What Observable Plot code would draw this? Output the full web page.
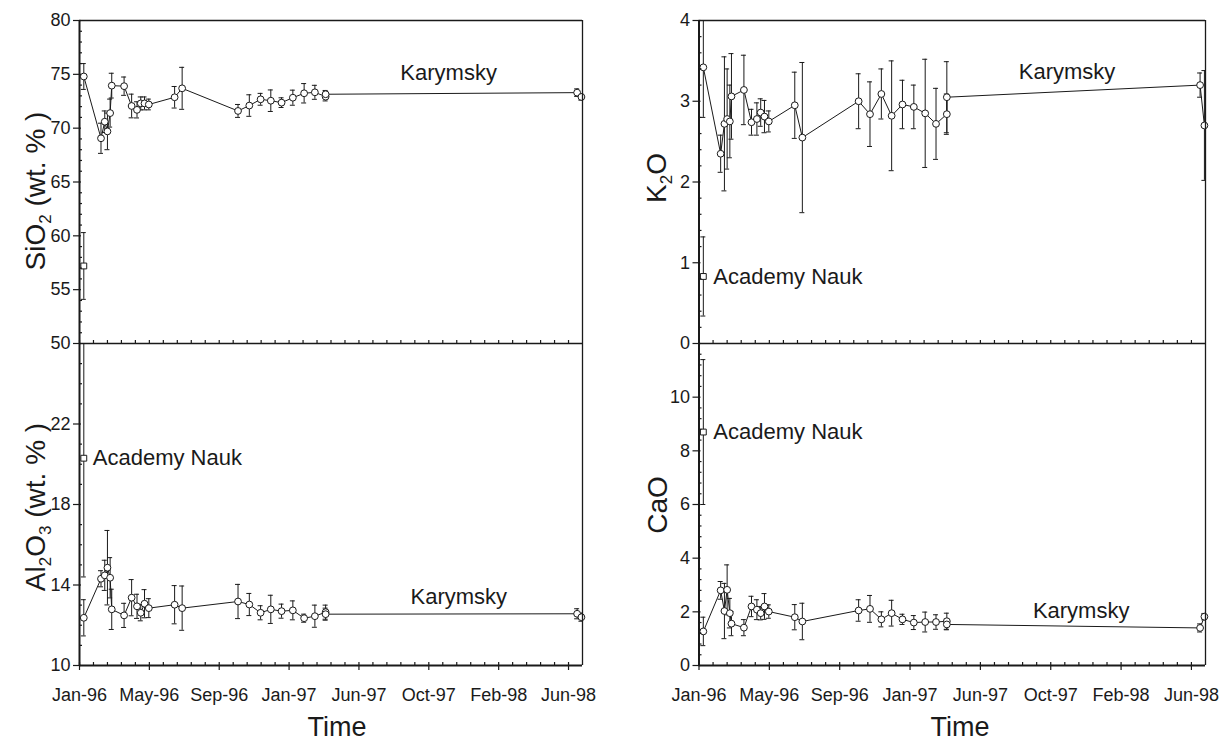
<!DOCTYPE html>
<html><head><meta charset="utf-8">
<script src="https://cdn.jsdelivr.net/npm/d3@7"></script>
<script src="https://cdn.jsdelivr.net/npm/@observablehq/plot@0.6"></script>
<style>
html,body{margin:0;padding:0;background:#fff;}
#root{position:relative;width:1230px;height:744px;overflow:hidden;}
.pn{position:absolute;}
</style></head><body><div id="root"></div>
<script>
// Days since 1 Jan 1996
const days = [8, 40, 47, 52, 57, 60, 83, 97, 107, 114, 121, 129, 177, 191, 295, 316, 337, 356, 376, 397, 418, 438, 458, 458, 926, 934];
const sio2 = [74.8, 69.06, 70.6, 69.7, 71.4, 73.95, 73.9, 72.06, 71.7, 72.3, 72.3, 72.2, 72.87, 73.7, 71.6, 72.1, 72.68, 72.55, 72.37, 72.83, 73.24, 73.33, 72.93, 73.15, 73.3, 72.9];
const sio2Err = [1.2, 1.4, 1.0, 1.7, 1.3, 1.15, 0.85, 1.1, 0.75, 0.6, 0.6, 0.5, 1.0, 1.95, 0.6, 1.0, 0.55, 1.0, 0.45, 0.7, 0.9, 0.65, 0.4, 0.35, 0.35, 0.3];
const al2o3 = [12.37, 14.31, 14.48, 14.86, 14.36, 12.79, 12.49, 13.37, 12.94, 12.62, 13.07, 12.85, 13.02, 12.85, 13.18, 13.03, 12.62, 12.79, 12.7, 12.74, 12.35, 12.45, 12.65, 12.55, 12.57, 12.4];
const al2o3Err = [0.9, 0.4, 0.75, 1.85, 1.0, 1.0, 0.6, 0.9, 0.6, 0.4, 0.7, 0.47, 0.95, 1.1, 0.85, 0.55, 0.35, 0.7, 0.35, 0.47, 0.2, 0.55, 0.35, 0.3, 0.25, 0.2];
const k2o = [3.42, 2.35, 2.72, 2.78, 2.75, 3.06, 3.14, 2.74, 2.78, 2.86, 2.81, 2.75, 2.95, 2.55, 3.0, 2.84, 3.09, 2.82, 2.96, 2.93, 2.85, 2.72, 2.84, 3.05, 3.2, 2.7];
const k2oErr = [0.62, 0.23, 0.83, 0.62, 0.45, 0.53, 0.43, 0.16, 0.2, 0.17, 0.2, 0.13, 0.41, 0.93, 0.34, 0.4, 0.31, 0.68, 0.3, 0.27, 0.67, 0.44, 0.25, 0.44, 0.15, 0.68];
const cao = [1.27, 2.8, 2.03, 2.82, 1.95, 1.56, 1.41, 2.2, 2.08, 1.95, 2.2, 2.01, 1.8, 1.64, 2.05, 2.11, 1.72, 1.95, 1.72, 1.6, 1.62, 1.62, 1.65, 1.53, 1.4, 1.82];
const caoErr = [0.53, 0.33, 1.03, 0.93, 0.55, 0.45, 0.3, 0.38, 0.37, 0.25, 0.48, 0.25, 0.47, 0.68, 0.4, 0.5, 0.28, 0.48, 0.19, 0.26, 0.37, 0.27, 0.3, 0.2, 0.15, 0.12];

// Academy Nauk samples: SiO2, Al2O3, K2O, CaO
const academyDay = 8;
const academyValues = [57.2, 20.3, 0.83, 8.7];
const academyErrors = [3.1, 5.9, 0.49, 2.7];

const noteText = ["Karymsky", "Academy Nauk"];
const karymskyNoteDay = [597, 616, 591, 617];
const karymskyNoteValue = [75.1, 13.4, 3.36, 2.05];

const xTickDays = [0, 130, 260, 390, 520, 650, 780, 910];
const xTickLabels = ["Jan-96", "May-96", "Sep-96", "Jan-97", "Jun-97", "Oct-97", "Feb-98", "Jun-98"];
const X_MAX = 936;

const sio2Ticks = [50, 55, 60, 65, 70, 75, 80];
const al2o3Ticks = [10, 14, 18, 22];
const k2oTicks = [0, 1, 2, 3, 4];
const caoTicks = [0, 2, 4, 6, 8, 10];

const FONT = '"Liberation Sans", Arial, Helvetica, sans-serif';
const INK = "#1a1a1a";

function near(a, list) { return list.some(b => Math.abs(a - b) < 1e-6); }
function steps(a, b, s) { const n = Math.round((b - a) / s); return d3.range(n + 1).map(i => +(a + i * s).toFixed(6)); }

function makePanel(p) {
  const kary = days.map((d, i) => ({day: d, v: p.values[i], e: p.errors[i]}));
  const acad = [{day: academyDay, v: p.acadValue, e: p.acadError}];
  const bars = kary.concat(acad);
  const [y0, y1] = p.yDomain;
  const yMinor = steps(y0, y1, p.yMinorStep).filter(v => !near(v, p.yMajor) && v < y1 - 1e-6 && v > y0 + 1e-6);
  const xMinor = steps(0, X_MAX, 26).filter(v => !near(v, xTickDays) && v > 0 && v < X_MAX);
  const tick = {stroke: INK, strokeWidth: 1.2};
  const marks = [
    Plot.ruleX(bars, {x: "day", y1: d => d.v - d.e, y2: d => d.v + d.e, stroke: INK, strokeWidth: 1, clip: true}),
    Plot.ruleY(bars, {y: d => d.v + d.e, x1: "day", x2: "day", insetLeft: -2.5, insetRight: -2.5, stroke: INK, strokeWidth: 1, clip: true}),
    Plot.ruleY(bars, {y: d => d.v - d.e, x1: "day", x2: "day", insetLeft: -2.5, insetRight: -2.5, stroke: INK, strokeWidth: 1, clip: true}),
    Plot.line(kary, {x: "day", y: "v", stroke: INK, strokeWidth: 1}),
    Plot.dot(kary, {x: "day", y: "v", r: 3.4, fill: "white", stroke: INK, strokeWidth: 1}),
    Plot.dot(acad, {x: "day", y: "v", symbol: "square", r: 3.3, fill: "white", stroke: INK, strokeWidth: 1}),
    Plot.text([p.note], {x: "day", y: "v", text: () => noteText[0], textAnchor: "start", fontSize: 22, fill: INK})
  ];
  if (p.acadLabel) marks.push(Plot.text(acad, {x: "day", y: "v", text: () => noteText[1], textAnchor: "start", dx: p.acadDx, fontSize: 22, fill: INK}));
  marks.push(
    Plot.ruleX([0], {stroke: INK, strokeWidth: 2}),
    Plot.ruleX([X_MAX], {stroke: INK, strokeWidth: 1.3}),
    Plot.ruleY([y0], {stroke: INK, strokeWidth: p.isTop ? 1.3 : 2})
  );
  if (p.isTop) marks.push(Plot.ruleY([y1], {stroke: INK, strokeWidth: 1.3}));
  marks.push(
    Plot.ruleY(p.yMajor, {y: d => d, x1: () => 0, x2: () => 0, insetLeft: -6, insetRight: -2, ...tick}),
    Plot.ruleY(yMinor, {y: d => d, x1: () => 0, x2: () => 0, insetLeft: 0, insetRight: -3, ...tick}),
    Plot.ruleX(xTickDays, {x: d => d, y1: () => y0, y2: () => y0, insetTop: -3, insetBottom: p.isTop ? 0 : -5, ...tick}),
    Plot.ruleX(xMinor, {x: d => d, y1: () => y0, y2: () => y0, insetTop: -3, insetBottom: 0, ...tick}),
    Plot.axisY(p.yMajor, {tickSize: 0, tickPadding: 9, fontSize: 18, label: null, tickFormat: d => String(d)})
  );
  if (!p.isTop) marks.push(Plot.axisX(xTickDays, {tickSize: 0, tickPadding: 23, fontSize: 18, label: null, tickFormat: d => xTickLabels[xTickDays.indexOf(d)]}));
  const xOpt = {type: "linear", domain: [0, X_MAX]};
  if (p.isTop) xOpt.axis = null;
  const svg = Plot.plot({
    width: p.width, height: p.height,
    marginLeft: p.marginLeft, marginRight: p.marginRight, marginTop: p.marginTop, marginBottom: p.marginBottom,
    x: xOpt,
    y: {type: "linear", domain: p.yDomain},
    style: {background: "transparent", overflow: "visible", fontFamily: FONT, color: INK},
    marks
  });
  return svg;
}

function addTitle(svg, x, y, parts) {
  const t = d3.select(svg).append("text")
    .attr("transform", `translate(${x},${y}) rotate(-90)`)
    .attr("text-anchor", "middle").attr("font-size", 28)
    .attr("font-family", FONT).attr("fill", INK);
  let shifted = false;
  for (const [s, sub] of parts) {
    const ts = t.append("tspan").text(s);
    if (sub) { ts.attr("font-size", 17); if (!shifted) { ts.attr("dy", 6); shifted = true; } }
    else { if (shifted) { ts.attr("dy", -6); shifted = false; } }
  }
}
function addTime(svg, x, y) {
  d3.select(svg).append("text").attr("x", x).attr("y", y).attr("text-anchor", "middle")
    .attr("font-size", 27).attr("font-family", FONT).attr("fill", INK).text("Time");
}

const root = document.getElementById("root");
function place(svg, left, top) {
  const d = document.createElement("div");
  d.className = "pn"; d.style.left = left + "px"; d.style.top = top + "px";
  d.appendChild(svg); root.appendChild(d);
}

const leftGeom = {width: 600, marginLeft: 79, marginRight: 18};
const rightGeom = {width: 610, marginLeft: 78.5, marginRight: 25};
const topGeom = {height: 343, marginTop: 20, marginBottom: 0, isTop: true};
const botGeom = {height: 401, marginTop: 0, marginBottom: 79, isTop: false};

const tl = makePanel({...leftGeom, ...topGeom, values: sio2, errors: sio2Err, acadValue: academyValues[0], acadError: academyErrors[0],
  yDomain: [50, 80], yMajor: sio2Ticks, yMinorStep: 1, acadLabel: false, acadDx: 9, note: {day: karymskyNoteDay[0], v: karymskyNoteValue[0]}});
addTitle(tl, 45, 191, [["SiO"], ["2", true], [" (wt. % )"]]);
place(tl, 0, 0);

const bl = makePanel({...leftGeom, ...botGeom, values: al2o3, errors: al2o3Err, acadValue: academyValues[1], acadError: academyErrors[1],
  yDomain: [10, 26], yMajor: al2o3Ticks, yMinorStep: 1, acadLabel: true, acadDx: 9, note: {day: karymskyNoteDay[1], v: karymskyNoteValue[1]}});
addTitle(bl, 45, 164, [["Al"], ["2", true], ["O"], ["3", true], [" (wt. % )"]]);
addTime(bl, 337, 393);
place(bl, 0, 343);

const tr = makePanel({...rightGeom, ...topGeom, values: k2o, errors: k2oErr, acadValue: academyValues[2], acadError: academyErrors[2],
  yDomain: [0, 4], yMajor: k2oTicks, yMinorStep: 0.2, acadLabel: true, acadDx: 10, note: {day: karymskyNoteDay[2], v: karymskyNoteValue[2]}});
addTitle(tr, 46, 178, [["K"], ["2", true], ["O"]]);
place(tr, 620, 0);

const br = makePanel({...rightGeom, ...botGeom, values: cao, errors: caoErr, acadValue: academyValues[3], acadError: academyErrors[3],
  yDomain: [0, 12], yMajor: caoTicks, yMinorStep: 0.4, acadLabel: true, acadDx: 10, note: {day: karymskyNoteDay[3], v: karymskyNoteValue[3]}});
addTitle(br, 47, 162, [["CaO"]]);
addTime(br, 340, 393);
place(br, 620, 343);
</script>
</body></html>
